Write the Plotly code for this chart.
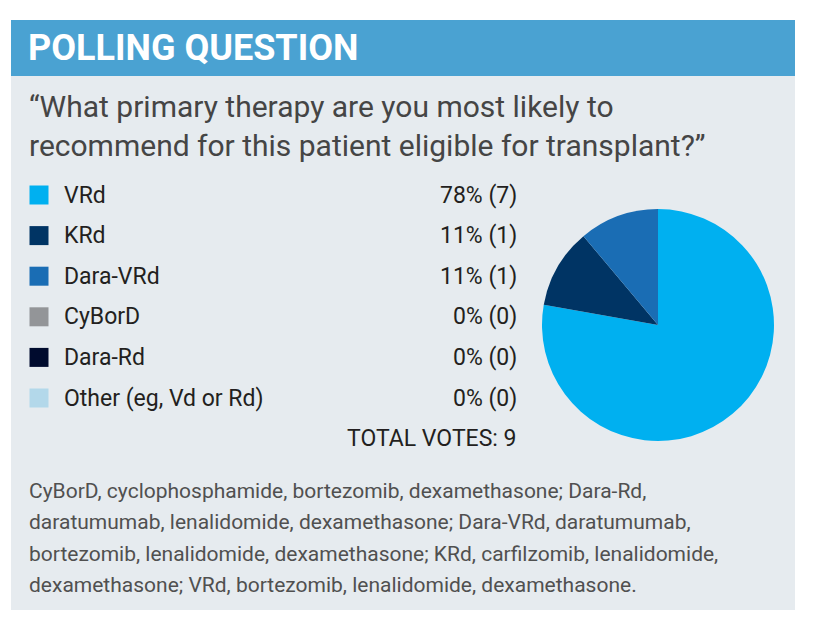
import plotly.graph_objects as go

# ---- data ----
categories = ["VRd", "KRd", "Dara-VRd", "CyBorD", "Dara-Rd", "Other (eg, Vd or Rd)"]
votes = [7, 1, 1, 0, 0, 0]
colors = ["#00b0f0", "#003464", "#1a6db4", "#939598", "#000b2e", "#b3d8ea"]
title_text = "POLLING QUESTION"
question_lines = ["\u201cWhat primary therapy are you most likely to",
                  "recommend for this patient eligible for transplant?\u201d"]
footnote_lines = [
    "CyBorD, cyclophosphamide, bortezomib, dexamethasone; Dara-Rd,",
    "daratumumab, lenalidomide, dexamethasone; Dara-VRd, daratumumab,",
    "bortezomib, lenalidomide, dexamethasone; KRd, carfilzomib, lenalidomide,",
    "dexamethasone; VRd, bortezomib, lenalidomide, dexamethasone.",
]

total = sum(votes)
pct = [round(100 * v / total) for v in votes]

# page is 816x638; the html body has an 8px margin, so the figure covers 8..808 x 8..630
OFF = 8
W, H = 816 - 2 * OFF, 638 - 2 * OFF
FONT = "Roboto, Liberation Sans, sans-serif"
TEXT = "#231f20"

fig = go.Figure()

# pie (page coordinates)
cx, cy, r = 658, 325, 116
fig.add_trace(go.Pie(
    labels=categories, values=votes, sort=False, direction="clockwise", rotation=0,
    marker=dict(colors=colors, line=dict(width=0)),
    textinfo="none", hoverinfo="label+percent", showlegend=False,
    domain=dict(x=[(cx - r - OFF) / W, (cx + r - OFF) / W],
                y=[1 - (cy + r - OFF) / H, 1 - (cy - r - OFF) / H]),
))

# legend rows
row_y0, row_dy = 195, 40.6
row_y = [row_y0 + i * row_dy for i in range(len(categories))]
fig.add_trace(go.Scatter(
    x=[39] * len(categories), y=row_y, mode="markers",
    marker=dict(symbol="square", size=19, color=colors, line=dict(width=0)),
    hoverinfo="skip", showlegend=False,
))

annotations = []
for cat, p, v, y in zip(categories, pct, votes, row_y):
    annotations.append(dict(x=62, y=y, text=cat, xanchor="left", yanchor="middle",
                            showarrow=False, font=dict(family=FONT, size=23, color=TEXT)))
    annotations.append(dict(x=519, y=y, text=f"{p}% ({v})", xanchor="right", yanchor="middle",
                            showarrow=False, font=dict(family=FONT, size=23, color=TEXT)))
annotations.append(dict(x=519, y=row_y[-1] + row_dy, text=f"TOTAL VOTES: {total}", xanchor="right",
                        yanchor="middle", showarrow=False, font=dict(family=FONT, size=23, color=TEXT)))

# title
annotations.append(dict(x=26, y=48, text=title_text, xanchor="left", yanchor="middle", showarrow=False,
                        font=dict(family=FONT, size=36, color="white", weight="bold")))
# question
for i, line in enumerate(question_lines):
    annotations.append(dict(x=27, y=106 + i * 39, text=line, xanchor="left", yanchor="middle",
                            showarrow=False, font=dict(family=FONT, size=30, color="#454545")))
# footnote
for i, line in enumerate(footnote_lines):
    annotations.append(dict(x=27, y=491 + i * 31.3, text=line, xanchor="left", yanchor="middle",
                            showarrow=False, font=dict(family=FONT, size=21, color="#505050")))

shapes = [
    dict(type="rect", x0=11, x1=795, y0=75, y1=610, fillcolor="#e6ebef", line=dict(width=0), layer="below"),
    dict(type="rect", x0=11, x1=795, y0=20, y1=76, fillcolor="#4aa2d2", line=dict(width=0), layer="below"),
]

fig.update_layout(
    width=W, height=H, margin=dict(l=0, r=0, t=0, b=0),
    paper_bgcolor="white", plot_bgcolor="rgba(0,0,0,0)",
    xaxis=dict(range=[OFF, OFF + W], visible=False, fixedrange=True),
    yaxis=dict(range=[OFF + H, OFF], visible=False, fixedrange=True),
    shapes=shapes, annotations=annotations,
)

fig.write_html("out.html")
